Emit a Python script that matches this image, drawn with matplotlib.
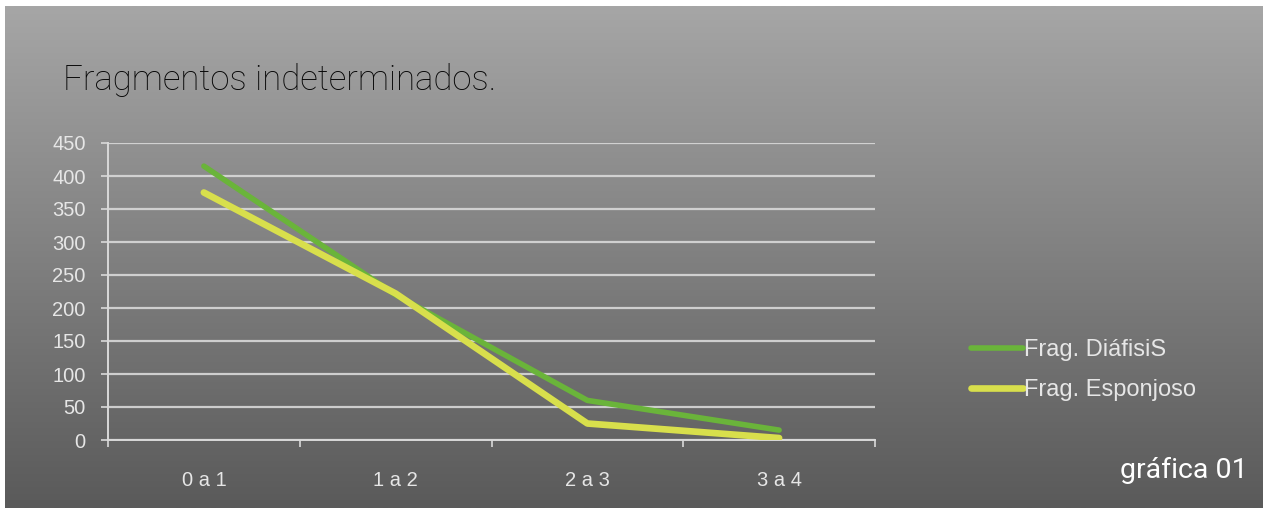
import matplotlib
matplotlib.use("Agg")
import matplotlib.pyplot as plt
import numpy as np

# ---- data ----------------------------------------------------------------
categories = ["0 a 1", "1 a 2", "2 a 3", "3 a 4"]
diafisis = [415, 220, 60, 15]
esponjoso = [375, 222, 25, 3]
y_ticks = [0, 50, 100, 150, 200, 250, 300, 350, 400, 450]

W, H = 1270, 508
fig = plt.figure(figsize=(W / 100, H / 100), dpi=100)
fig.patch.set_facecolor("white")

# gradient panel background
bg = fig.add_axes([5 / W, 0, 1 - 12 / W, 1 - 6 / H])
grad = np.linspace(0, 1, 256).reshape(-1, 1)
bg.imshow(grad, aspect="auto", cmap=matplotlib.colors.LinearSegmentedColormap.from_list(
    "bg", ["#a6a6a6", "#5a5a5a"]), extent=[0, 1, 0, 1], origin="upper")
bg.set_axis_off()

ax = fig.add_axes([108 / W, 1 - 440 / H, (875 - 108) / W, (440 - 143) / H])
ax.set_facecolor("none")

x = np.arange(len(categories))
l1, = ax.plot(x, diafisis, color="#6ab43a", lw=4.0, solid_capstyle="round",
              label="Frag. DiáfisiS", zorder=3)
l2, = ax.plot(x, esponjoso, color="#d8df4c", lw=4.8, solid_capstyle="round",
              label="Frag. Esponjoso", zorder=3)

ax.set_xlim(-0.5, len(categories) - 0.5)
ax.set_ylim(0, 450)
ax.set_yticks(y_ticks)
ax.set_xticks(x)
ax.set_xticklabels(categories)
ax.set_xticks(np.arange(-0.5, len(categories), 1), minor=True)
ax.grid(axis="y", color="#d9d9d9", lw=1.6, alpha=0.9)
ax.set_axisbelow(True)

for s in ["top", "right"]:
    ax.spines[s].set_visible(False)
for s in ["left", "bottom"]:
    ax.spines[s].set_color("#d9d9d9")
    ax.spines[s].set_linewidth(1.4)

ax.tick_params(axis="y", colors="#d9d9d9", labelcolor="#e6e6e6", labelsize=14.5,
               length=5, width=1.2, pad=11)
ax.tick_params(axis="x", which="major", length=0, labelcolor="#e6e6e6",
               labelsize=14.5, pad=22)
ax.tick_params(axis="x", which="minor", length=5, width=1.2, colors="#d9d9d9",
               direction="out")
for lab in ax.get_xticklabels() + ax.get_yticklabels():
    lab.set_family("Liberation Sans")

fig.legend(handles=[l1, l2], loc="center left",
           bbox_to_anchor=(950 / W, 1 - 370 / H), frameon=False,
           handlelength=2.2, handletextpad=0.05, labelspacing=0.75,
           prop={"family": "Liberation Sans", "size": 17}, labelcolor="#e6e6e6")

fig.text(63 / W, 1 - 80 / H, "Fragmentos indeterminados.", fontsize=25,
         family="Roboto", fontweight="light", color="#050505", va="center")
fig.text(1248 / W, 1 - 470 / H, "gráfica 01", fontsize=20.5, family="Roboto",
         color="white", ha="right", va="center")

fig.savefig("out.png", dpi=100)
